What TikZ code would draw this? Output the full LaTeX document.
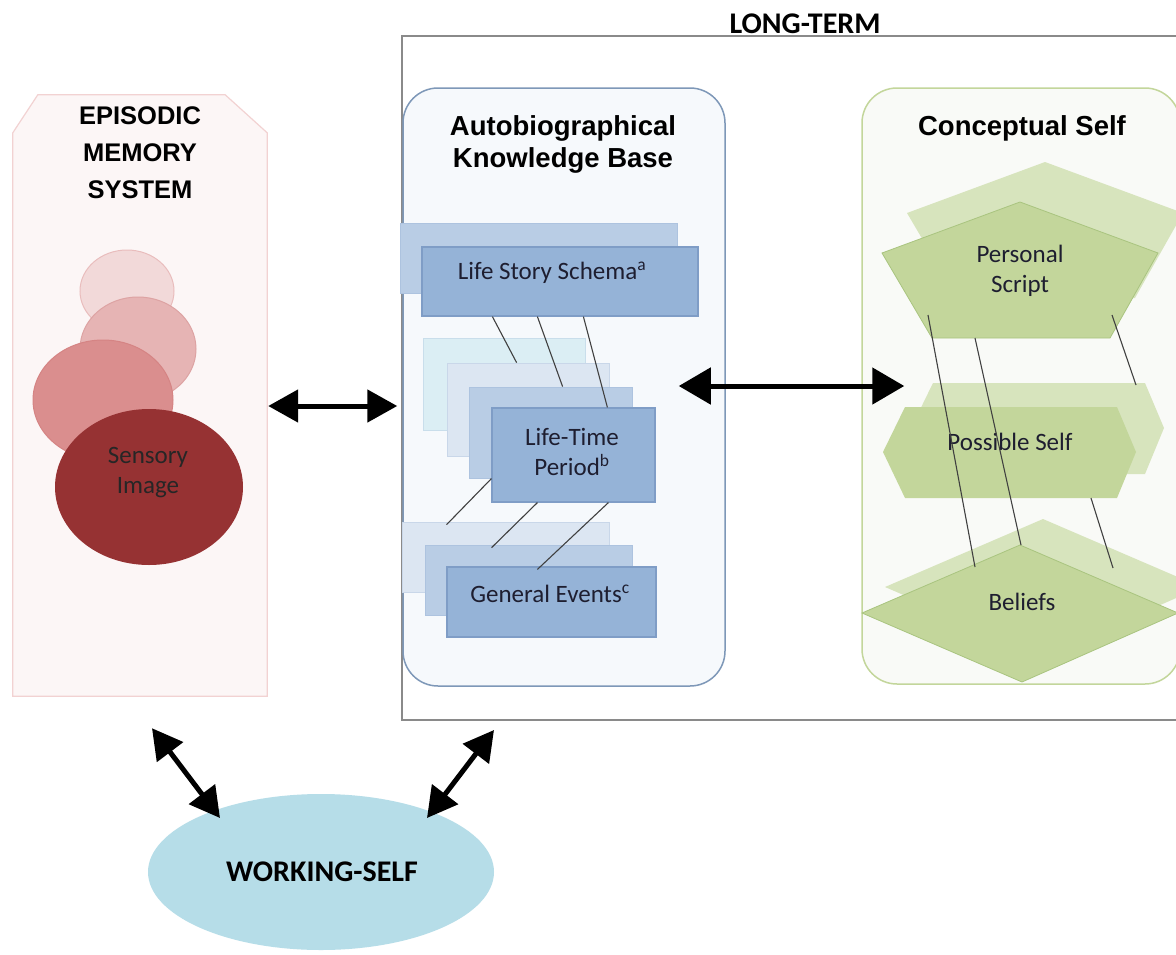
\documentclass[tikz,border=0pt]{standalone}
\usepackage{fontspec}
\setmainfont{Carlito}
\newfontfamily\hfont{Liberation Sans}
\usetikzlibrary{arrows.meta,shapes.geometric,calc}
\definecolor{epiFill}{HTML}{FCF6F6}
\definecolor{epiLine}{HTML}{F2D2D2}
\definecolor{ellA}{HTML}{F2D9D9}
\definecolor{ellAl}{HTML}{E9BDBD}
\definecolor{ellB}{HTML}{E6B4B4}
\definecolor{ellBl}{HTML}{DDA3A3}
\definecolor{ellC}{HTML}{DA8E8E}
\definecolor{ellCl}{HTML}{D58484}
\definecolor{sensFill}{HTML}{963233}
\definecolor{akbFill}{HTML}{F6F9FC}
\definecolor{akbLine}{HTML}{7E98B8}
\definecolor{bDark}{HTML}{95B3D7}
\definecolor{bMid}{HTML}{B9CDE5}
\definecolor{bLight}{HTML}{DCE6F2}
\definecolor{bCyan}{HTML}{DBEEF4}
\definecolor{bLine}{HTML}{7F9DC6}
\definecolor{csFill}{HTML}{F9FAF7}
\definecolor{csLine}{HTML}{C3D69B}
\definecolor{gBack}{HTML}{D7E4BD}
\definecolor{gFront}{HTML}{C3D69B}
\definecolor{gLine}{HTML}{A9C47F}
\definecolor{wsFill}{HTML}{B6DDE8}
\definecolor{ltLine}{HTML}{8A8A8A}
\definecolor{txt}{HTML}{1E1E30}
\tikzset{
  heading/.style={font=\hfont\bfseries\fontsize{27.5}{32}\selectfont, align=center, text=black},
  epihead/.style={font=\hfont\bfseries\fontsize{25.5}{37}\selectfont, align=center, text=black},
  bigbold/.style={font=\bfseries\fontsize{30}{36}\selectfont, text=black},
  body/.style={font=\fontsize{25}{30}\selectfont, align=center, text=txt},
  bluebox/.style={draw=bLine, line width=1.2pt, inner sep=0pt},
  backbox/.style={draw=bMid!80!bLine, line width=0.8pt, inner sep=0pt},
  ell/.style={ellipse, inner sep=0pt, line width=1pt},
  link/.style={draw=black!75, line width=1.1pt},
  bigarrow/.style={line width=5pt, {Triangle[length=30pt,width=32pt]}-{Triangle[length=30pt,width=32pt]}},
  midarrow/.style={line width=5pt, {Triangle[length=32pt,width=36pt]}-{Triangle[length=32pt,width=36pt]}},
}
\begin{document}
\begin{tikzpicture}[x=1pt,y=-1pt]
\clip (0,0) rectangle (1176,954);
\fill[white] (0,0) rectangle (1176,954);

% long-term frame
\node[draw=ltLine, line width=2pt, minimum width=798pt, minimum height=684pt, inner sep=0pt] (lt) at (801,378) {};
\node[bigbold, anchor=base] (ltt) at (805,33) {LONG-TERM};

% episodic memory system
\node[minimum width=254pt, minimum height=601pt, inner sep=0pt] (epi) at (140,395.5) {};
\draw[fill=epiFill, draw=epiLine, line width=1.2pt]
  (epi.south west) -- ([yshift=-38pt]epi.north west) -- ([xshift=25pt]epi.north west)
  -- ([xshift=-42pt]epi.north east) -- ([yshift=-38pt]epi.north east) -- (epi.south east) -- cycle;
\node[epihead] (epit) at (140,153) {EPISODIC\\MEMORY\\SYSTEM};
\node[ell, fill=ellA, draw=ellAl, minimum width=94pt, minimum height=82pt] (e1) at (127,291) {};
\node[ell, fill=ellB, draw=ellBl, minimum width=116pt, minimum height=104pt] (e2) at (138,349) {};
\node[ell, fill=ellC, draw=ellCl, minimum width=140pt, minimum height=120pt] (e3) at (103,400) {};
\node[ell, fill=sensFill, minimum width=188pt, minimum height=156pt] (sens) at (149,487) {};
\node[body, text=black!85] (senst) at (148,473) {Sensory\\Image};

% autobiographical knowledge base
\node[draw=akbLine, fill=akbFill, line width=1.5pt, rounded corners=35pt, minimum width=322pt, minimum height=598pt] (akb) at (564,387) {};
\node[heading] (akbt) at (563,144) {Autobiographical\\Knowledge Base};

\node[backbox, fill=bMid, minimum width=277pt, minimum height=70pt] (lssb) at (538.5,258) {};
\node[bluebox, fill=bDark, minimum width=276pt, minimum height=69pt] (lss) at (560,281.5) {};
\node[body] (lsst) at (552,273) {Life Story Schema\textsuperscript{a}};

\node[backbox, draw=bCyan!80!bLine, fill=bCyan, minimum width=162pt, minimum height=92pt] (ltp1) at (504,384) {};
\node[backbox, draw=bLight!80!bLine, fill=bLight, minimum width=162pt, minimum height=93pt] (ltp2) at (528,409.5) {};
\node[backbox, fill=bMid, minimum width=163pt, minimum height=91pt] (ltp3) at (550.5,432.5) {};
\node[bluebox, fill=bDark, minimum width=163pt, minimum height=94pt] (ltp4) at (573.5,455) {};
\node[body] (ltpt) at (572,452) {Life-Time\\Period\textsuperscript{b}};

\node[backbox, draw=bLight!80!bLine, fill=bLight, minimum width=207pt, minimum height=70pt] (ge1) at (505.5,557) {};
\node[backbox, fill=bMid, minimum width=207pt, minimum height=70pt] (ge2) at (528.5,580) {};
\node[bluebox, fill=bDark, minimum width=209pt, minimum height=70pt] (ge3) at (551.5,602) {};
\node[body] (get) at (550,594) {General Events\textsuperscript{c}};

\draw[link] ([xshift=71pt]lss.south west) -- ([xshift=70pt]ltp2.north west);
\draw[link] ([xshift=116pt]lss.south west) -- ([xshift=94pt]ltp3.north west);
\draw[link] ([xshift=162pt]lss.south west) -- ([xshift=116pt]ltp4.north west);
\draw[link] ([yshift=24pt]ltp4.south west) -- ([xshift=45pt,yshift=-3pt]ge1.north west);
\draw[link] ([xshift=46pt]ltp4.south west) -- ([xshift=67pt,yshift=-3pt]ge2.north west);
\draw[link] ([xshift=117pt]ltp4.south west) -- ([xshift=91pt,yshift=-3pt]ge3.north west);

% conceptual self
\node[draw=csLine, fill=csFill, line width=1.5pt, rounded corners=35pt, minimum width=318pt, minimum height=596pt] (cs) at (1021,386) {};
\node[heading] (cst) at (1022,128) {Conceptual Self};

\fill[gBack] (1045,162) -- (1183,213) -- (1135,298) -- (957,298) -- (907,213) -- cycle;
\draw[fill=gFront, draw=gLine, line width=0.8pt] (1020,202) -- (1158,253) -- (1110,338) -- (932,338) -- (882,253) -- cycle;
\node[body] (pst) at (1020,271) {Personal\\Script};

\fill[gBack] (911,428) -- (933,383) -- (1145,383) -- (1164,428) -- (1145,474) -- (933,474) -- cycle;
\fill[gFront] (883,452) -- (905,407) -- (1117,407) -- (1136,452) -- (1117,498) -- (905,498) -- cycle;
\node[body] (pot) at (1010,442) {Possible Self};

\fill[gBack] (885,587) -- (1043,519) -- (1201,587) -- (1045,656) -- cycle;
\draw[fill=gFront, draw=gLine, line width=0.8pt] (862,613) -- (1020,545) -- (1178,613) -- (1022,682) -- cycle;
\node[body] (belt) at (1022,602) {Beliefs};

\coordinate (c1a) at (928,315); \coordinate (c1b) at (975,567);
\coordinate (c2a) at (975,338); \coordinate (c2b) at (1021,545);
\coordinate (c3a) at (1112,315); \coordinate (c3b) at (1136,385);
\coordinate (c4a) at (1091,498); \coordinate (c4b) at (1113,568);
\draw[link] (c1a) -- (c1b);
\draw[link] (c2a) -- (c2b);
\draw[link] (c3a) -- (c3b);
\draw[link] (c4a) -- (c4b);

% working self
\node[ell, fill=wsFill, minimum width=346pt, minimum height=156pt] (ws) at (321,872) {};
\node[bigbold] (wst) at (322,872) {WORKING-SELF};

% arrows
\draw[bigarrow] ([shift={(1,10.5)}]epi.east) -- ([shift={(-5,19)}]akb.west);
\draw[midarrow] ([shift={(-47,-1)}]akb.east) -- ([shift={(43,0)}]cs.west);
\draw[bigarrow] ([shift={(12,32)}]epi.south) -- ([shift={(-101,-54)}]ws.center);
\draw[bigarrow] ([shift={(93,9)}]lt.south west) -- ([shift={(106,-54)}]ws.center);
\end{tikzpicture}
\end{document}
